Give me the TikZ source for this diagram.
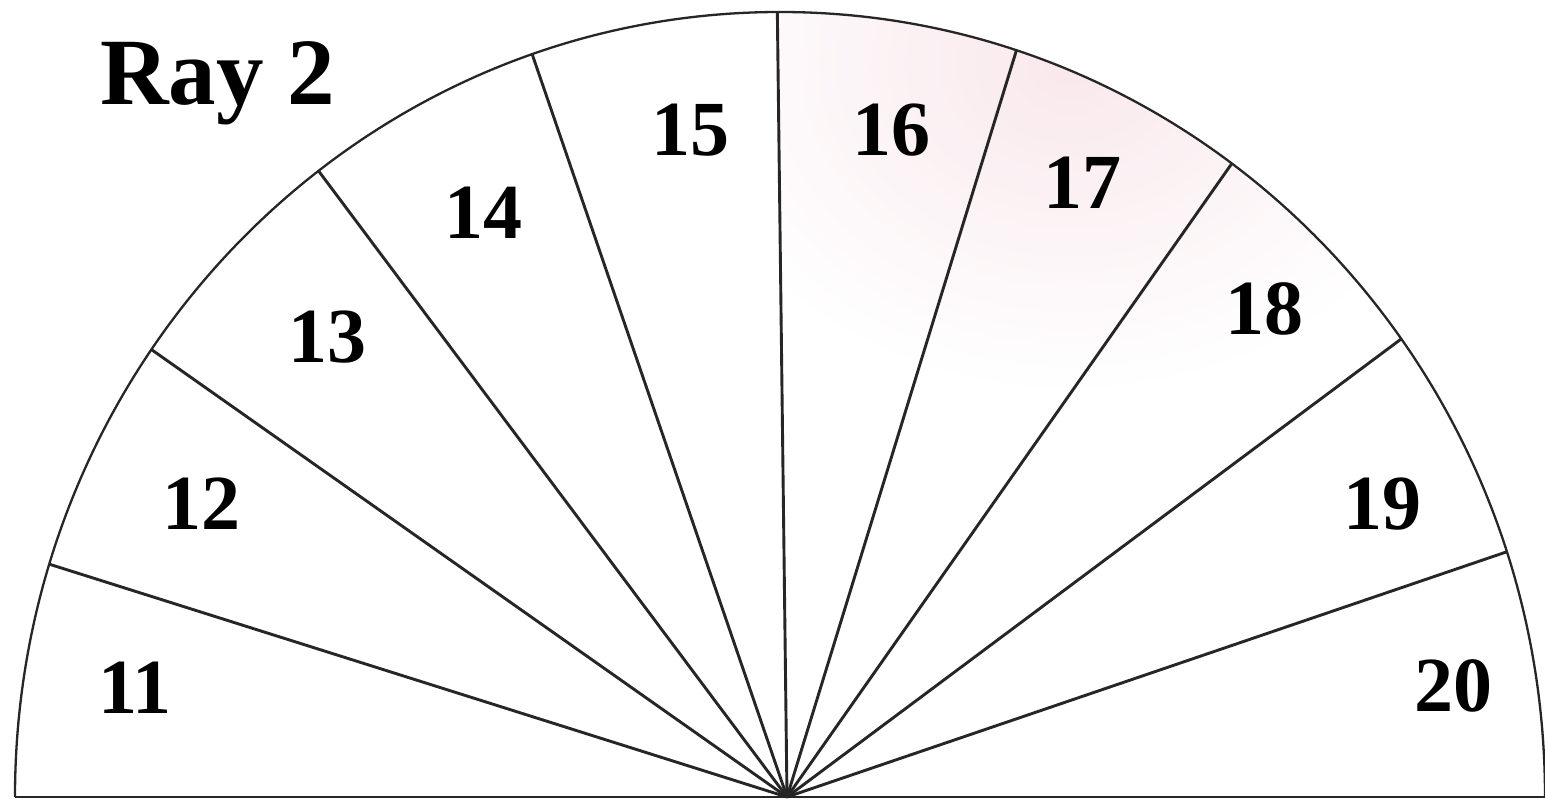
\documentclass[tikz,border=0pt]{standalone}
\usepackage{fontspec}
\setmainfont{Liberation Serif}
\begin{document}
\begin{tikzpicture}[x=1pt,y=1pt,
  lbl/.style={font=\fontsize{78}{78}\selectfont\bfseries, inner sep=0pt, text=black},
  ttl/.style={font=\fontsize{95}{95}\selectfont\bfseries, inner sep=0pt, text=black, anchor=base west},
  ray/.style={line width=2.9pt, draw=black!85},
  rim/.style={line width=2.3pt, draw=black!85}]
\definecolor{blush}{RGB}{249,232,236}
\fill[white] (0,0) rectangle (1545,804);
\useasboundingbox (0,0) rectangle (1545,804);
\coordinate (A) at (780,7);
\coordinate (H) at (787,7);
\coordinate (L) at (15,7);
\coordinate (R) at (1545,7);
% rays end points
\foreach \t [count=\i] in {162.75,145.25,127.1,108.9,90.2,72,53.8,35.7,18.2} {
  \path (A) ++(\t:765 and 785) coordinate (e\i);
}
% faint pink tint near the top right
\begin{scope}
  \clip (L) arc[start angle=180,end angle=0,x radius=765,y radius=785] -- cycle;
  \clip (H) -- (e5) -- (1545,804) -- (1545,7) -- cycle;
  \shade[inner color=blush, outer color=white] (1070,740) ellipse[x radius=400, y radius=330];
\end{scope}
% rays
\foreach \i in {1,...,9} {
  \draw[ray] (H) -- (e\i);
}
% rim and base
\draw[rim] (L) arc[start angle=180,end angle=0,x radius=765,y radius=785];
\draw[line width=2.8pt, draw=black!85] (L) -- (R);
% labels
\node[ttl] (title) at (100,699) {Ray 2};
\node[lbl] (n11) at (135,116) {11};
\node[lbl] (n12) at (201,300) {12};
\node[lbl] (n13) at (327,467) {13};
\node[lbl] (n14) at (483,591) {14};
\node[lbl] (n15) at (690,674) {15};
\node[lbl] (n16) at (891,674) {16};
\node[lbl] (n17) at (1082,621) {17};
\node[lbl] (n18) at (1264,495) {18};
\node[lbl] (n19) at (1382,300) {19};
\node[lbl] (n20) at (1453,118) {20};
\end{tikzpicture}
\end{document}
